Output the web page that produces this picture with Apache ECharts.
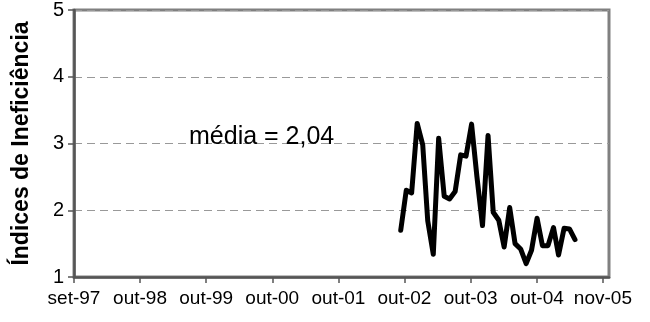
<!DOCTYPE html>
<html>
<head>
<meta charset="utf-8">
<script src="https://cdn.jsdelivr.net/npm/echarts@6/dist/echarts.min.js"></script>
<style>
html,body{margin:0;padding:0;background:#fff;}
#chart{width:650px;height:322px;}
</style>
</head>
<body>
<div id="chart"></div>
<script>
// Dates of observations (month end)
var dates = ['2002-09-30','2002-10-31','2002-11-30','2002-12-31',
  '2003-01-31','2003-02-28','2003-03-31','2003-04-30','2003-05-31','2003-06-30',
  '2003-07-31','2003-08-31','2003-09-30','2003-10-31','2003-11-30','2003-12-31',
  '2004-01-31','2004-02-29','2004-03-31','2004-04-30','2004-05-31','2004-06-30',
  '2004-07-31','2004-08-31','2004-09-30','2004-10-31','2004-11-30','2004-12-31',
  '2005-01-31','2005-02-28','2005-03-31','2005-04-30','2005-05-31'];
var values = [1.70,2.30,2.26,3.30,2.98,1.84,1.34,3.08,2.21,2.17,2.28,2.83,2.81,3.29,2.50,1.77,
  3.12,1.97,1.85,1.45,2.04,1.50,1.42,1.20,1.40,1.88,1.47,1.47,1.74,1.33,1.73,1.72,1.56];
var tickDates = ['1997-09-30','1998-10-04','1999-10-09','2000-10-12','2001-10-17',
  '2002-10-21','2003-10-26','2004-10-30','2005-11-03'];
var tickLabels = ['set-97','out-98','out-99','out-00','out-01','out-02','out-03','out-04','nov-05'];
var xMinDate = '1997-09-30';
var xMaxDate = '2005-12-07';
var yTicks = [1,2,3,4,5];
var yTitle = 'Índices de Ineficiência';
var note = 'média = 2,04';

function ts(s){ return Date.parse(s + 'T00:00:00Z'); }
var tickTs = tickDates.map(ts);
var seriesData = dates.map(function(d,i){ return [ts(d), values[i]]; });
var FONT = 'Liberation Sans, Arial, sans-serif';

var chart = echarts.init(document.getElementById('chart'), null, {renderer:'canvas'});
chart.setOption({
  animation:false,
  backgroundColor:'#ffffff',
  grid:{left:74,right:41,top:7,bottom:45,show:true,borderColor:'#808080',borderWidth:3,backgroundColor:'transparent'},
  xAxis:{
    type:'value',
    min:ts(xMinDate), max:ts(xMaxDate),
    axisLine:{show:true,lineStyle:{color:'#555555',width:2.5}},
    axisTick:{show:true,customValues:tickTs,length:6,inside:false,lineStyle:{color:'#555555',width:1.5}},
    axisLabel:{customValues:tickTs,margin:12,color:'#000',fontSize:19,fontFamily:FONT,
      formatter:function(v){ var i=tickTs.indexOf(v); return i>=0?tickLabels[i]:''; }},
    splitLine:{show:false}
  },
  yAxis:{
    type:'value',min:yTicks[0],max:yTicks[yTicks.length-1],interval:1,
    name:yTitle,nameLocation:'middle',nameRotate:90,nameGap:41,
    nameTextStyle:{fontSize:23,fontWeight:'bold',fontFamily:FONT,color:'#000'},
    axisLine:{show:true,lineStyle:{color:'#555555',width:2.5}},
    axisTick:{show:true,length:6,lineStyle:{color:'#555555',width:1.5}},
    axisLabel:{margin:10,color:'#000',fontSize:20,fontFamily:FONT},
    splitLine:{show:true,lineStyle:{color:'#999999',width:1,type:[8,5]}}
  },
  graphic:[{type:'text',left:189,top:125,z:10,style:{text:note,fontSize:25,fontFamily:FONT,fill:'#000'}}],
  series:[{
    type:'line',data:seriesData,showSymbol:false,symbol:'none',
    lineStyle:{color:'#000',width:5,join:'round',cap:'round'},
    z:5
  }]
});
</script>
</body>
</html>
